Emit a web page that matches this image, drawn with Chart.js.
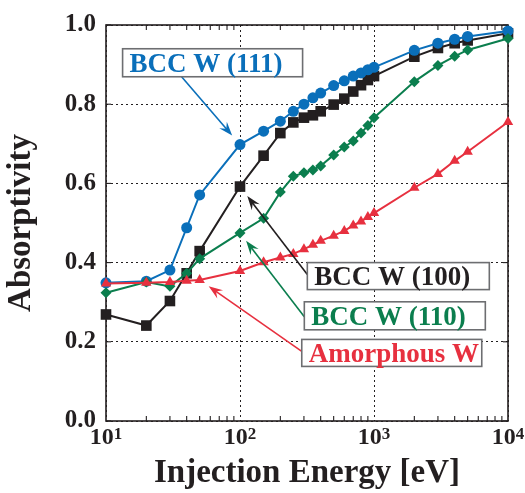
<!DOCTYPE html>
<html>
<head>
<meta charset="utf-8">
<script src="https://cdn.jsdelivr.net/npm/chart.js@4/dist/chart.umd.min.js"></script>
<style>
  html, body { margin: 0; padding: 0; background: #fff; }
  #wrap { width: 525px; height: 493px; }
</style>
</head>
<body>
<div id="wrap"><canvas id="chart" width="525" height="493"></canvas></div>
<script>
// injection energies (eV)
const energy = [10, 20, 30, 40, 50, 100, 150, 200, 250, 300, 350, 400, 500, 600, 700, 800, 900, 1000, 2000, 3000, 4000, 5000, 10000];

// absorptivity per surface
const bcc111 = [0.349, 0.353, 0.381, 0.488, 0.571, 0.698, 0.732, 0.757, 0.782, 0.800, 0.816, 0.828, 0.847, 0.859, 0.871, 0.879, 0.887, 0.893, 0.936, 0.954, 0.964, 0.971, 0.985];
const bcc100 = [0.269, 0.241, 0.303, 0.373, 0.429, 0.592, 0.670, 0.727, 0.754, 0.766, 0.772, 0.782, 0.799, 0.814, 0.832, 0.848, 0.861, 0.871, 0.920, 0.942, 0.954, 0.961, 0.979];
const bcc110 = [0.324, 0.351, 0.340, 0.373, 0.410, 0.475, 0.512, 0.578, 0.618, 0.627, 0.634, 0.644, 0.672, 0.692, 0.707, 0.727, 0.746, 0.766, 0.857, 0.898, 0.921, 0.937, 0.966];
const amorphous = [0.347, 0.349, 0.351, 0.354, 0.356, 0.379, 0.401, 0.413, 0.422, 0.434, 0.445, 0.455, 0.468, 0.480, 0.494, 0.504, 0.515, 0.525, 0.589, 0.624, 0.657, 0.680, 0.755];

// axis ticks
const xTickPowers = [1, 2, 3, 4];
const yTicks = [0, 0.2, 0.4, 0.6, 0.8, 1.0];
const yTickLabels = ['0.0', '0.2', '0.4', '0.6', '0.8', '1.0'];

const INK = '#231f20';
const BLUE = '#0a6fba';
const GREEN = '#0b7e4e';
const RED = '#e7303f';
const SERIF = "'Liberation Serif', 'Times New Roman', serif";

// label boxes with arrows (box anchored in data space, arrow points at a data point)
const callouts = [
  { text: 'BCC W (111)', color: BLUE, at: [13.3, 0.94], w: 180, h: 28, from: [59, 28], to: [bcc111, 5], gap: 12 },
  { text: 'BCC W (100)', color: INK, at: [318, 0.40], w: 182, h: 27, from: [0, 12], to: [bcc100, 5], gap: 12 },
  { text: 'BCC W (110)', color: GREEN, at: [302, 0.301], w: 181, h: 28, from: [0, 15], to: [bcc110, 5], gap: 10 },
  { text: 'Amorphous W', color: RED, at: [289, 0.206], w: 180, h: 27, from: [0, 12], to: [amorphous, 4], gap: 11 }
];

const toPoints = arr => arr.map((v, i) => ({ x: energy[i], y: v }));
const isPow10 = v => Math.abs(Math.log10(v) - Math.round(Math.log10(v))) < 1e-9;

function series(label, values, color, style, radius) {
  return {
    label: label,
    data: toPoints(values),
    borderColor: color,
    backgroundColor: color,
    borderWidth: 2,
    pointStyle: style,
    pointRadius: radius,
    pointBorderWidth: 0,
    pointBackgroundColor: color,
    clip: false
  };
}

// frame, inward ticks, power-of-ten labels
const frameTicks = {
  id: 'frameTicks',
  beforeDatasetsDraw(chart) {
    const { ctx, chartArea: a, scales: { x, y } } = chart;
    ctx.save();
    ctx.strokeStyle = INK;
    ctx.lineWidth = 1.1;
    const seg = (x1, y1, x2, y2) => { ctx.beginPath(); ctx.moveTo(x1, y1); ctx.lineTo(x2, y2); ctx.stroke(); };
    for (let e = 1; e < 4; e++) {
      for (let k = 2; k <= 9; k++) {
        const px = x.getPixelForValue(k * Math.pow(10, e));
        seg(px, a.bottom, px, a.bottom - 5);
        seg(px, a.top, px, a.top + 5);
      }
    }
    yTicks.forEach(v => {
      const py = y.getPixelForValue(v);
      seg(a.left, py, a.left + 5, py);
      seg(a.right, py, a.right - 5, py);
    });
    ctx.lineWidth = 1.6;
    ctx.strokeRect(a.left, a.top, a.right - a.left, a.bottom - a.top);

    ctx.fillStyle = INK;
    ctx.textBaseline = 'alphabetic';
    ctx.textAlign = 'left';
    xTickPowers.forEach(p => {
      const px = x.getPixelForValue(Math.pow(10, p));
      ctx.font = 'bold 24px ' + SERIF;
      const wBase = ctx.measureText('10').width;
      ctx.font = 'bold 17px ' + SERIF;
      const wExp = ctx.measureText(String(p)).width;
      const x0 = px - (wBase + wExp) / 2;
      ctx.font = 'bold 24px ' + SERIF;
      ctx.fillText('10', x0, a.bottom + 23);
      ctx.font = 'bold 17px ' + SERIF;
      ctx.fillText(String(p), x0 + wBase, a.bottom + 18);
    });
    ctx.restore();
  },
  afterDatasetsDraw(chart) {
    const { ctx, scales: { x, y } } = chart;
    ctx.save();
    callouts.forEach(c => {
      const bx = x.getPixelForValue(c.at[0]);
      const by = y.getPixelForValue(c.at[1]);
      const sx = bx + c.from[0], sy = by + c.from[1];
      const px = x.getPixelForValue(energy[c.to[1]]);
      const py = y.getPixelForValue(c.to[0][c.to[1]]);
      const len = Math.hypot(px - sx, py - sy);
      const ux = (px - sx) / len, uy = (py - sy) / len;
      const nx = -uy, ny = ux;
      const tx = px - ux * c.gap, ty = py - uy * c.gap;

      ctx.strokeStyle = c.color;
      ctx.fillStyle = c.color;
      ctx.lineWidth = 1.6;
      ctx.beginPath();
      ctx.moveTo(sx, sy);
      ctx.lineTo(tx - ux * 8, ty - uy * 8);
      ctx.stroke();
      ctx.beginPath();
      ctx.moveTo(tx, ty);
      ctx.lineTo(tx - ux * 14 + nx * 5, ty - uy * 14 + ny * 5);
      ctx.lineTo(tx - ux * 9, ty - uy * 9);
      ctx.lineTo(tx - ux * 14 - nx * 5, ty - uy * 14 - ny * 5);
      ctx.closePath();
      ctx.fill();

      ctx.fillStyle = '#fff';
      ctx.fillRect(bx, by, c.w, c.h);
      ctx.strokeStyle = '#6d6e71';
      ctx.lineWidth = 1.6;
      ctx.strokeRect(bx, by, c.w, c.h);
      ctx.fillStyle = c.color;
      ctx.font = 'bold 27px ' + SERIF;
      ctx.textAlign = 'left';
      ctx.textBaseline = 'alphabetic';
      ctx.fillText(c.text, bx + 7, by + c.h / 2 + 9);
    });
    ctx.restore();
  }
};

new Chart(document.getElementById('chart'), {
  type: 'line',
  data: {
    datasets: [
      series('Amorphous W', amorphous, RED, 'triangle', 6),
      series('BCC W (110)', bcc110, GREEN, 'rectRot', 5.5),
      series('BCC W (111)', bcc111, BLUE, 'circle', 5.5),
      series('BCC W (100)', bcc100, INK, 'rect', 7.5)
    ]
  },
  options: {
    responsive: false,
    animation: false,
    layout: { padding: { top: 19, right: 17, left: 0, bottom: 0 } },
    plugins: { legend: { display: false }, tooltip: { enabled: false } },
    scales: {
      x: {
        type: 'logarithmic',
        min: 10,
        max: 10000,
        afterFit: s => { s.height = 72; },
        ticks: { display: false, autoSkip: false },
        grid: {
          drawTicks: false,
          color: c => (c.tick && isPow10(c.tick.value)) ? INK : 'rgba(0,0,0,0)',
          lineWidth: 1
        },
        border: { display: false, dash: [2, 3] },
        title: {
          display: true,
          text: 'Injection Energy [eV]',
          color: INK,
          font: { family: SERIF, size: 33, weight: 'bold' },
          padding: { top: 0, bottom: 0 }
        }
      },
      y: {
        min: 0,
        max: 1,
        afterFit: s => { s.width = 106; },
        afterBuildTicks: s => { s.ticks = yTicks.map(v => ({ value: v })); },
        ticks: {
          padding: 10,
          color: INK,
          font: { family: SERIF, size: 25, weight: 'bold' },
          callback: (v, i) => yTickLabels[i]
        },
        grid: { drawTicks: false, color: INK, lineWidth: 1 },
        border: { display: false, dash: [2, 3] },
        title: {
          display: true,
          text: 'Absorptivity',
          color: INK,
          font: { family: SERIF, size: 33, weight: 'bold' },
          padding: { top: 2, bottom: 0 }
        }
      }
    }
  },
  plugins: [frameTicks]
});
</script>
</body>
</html>
